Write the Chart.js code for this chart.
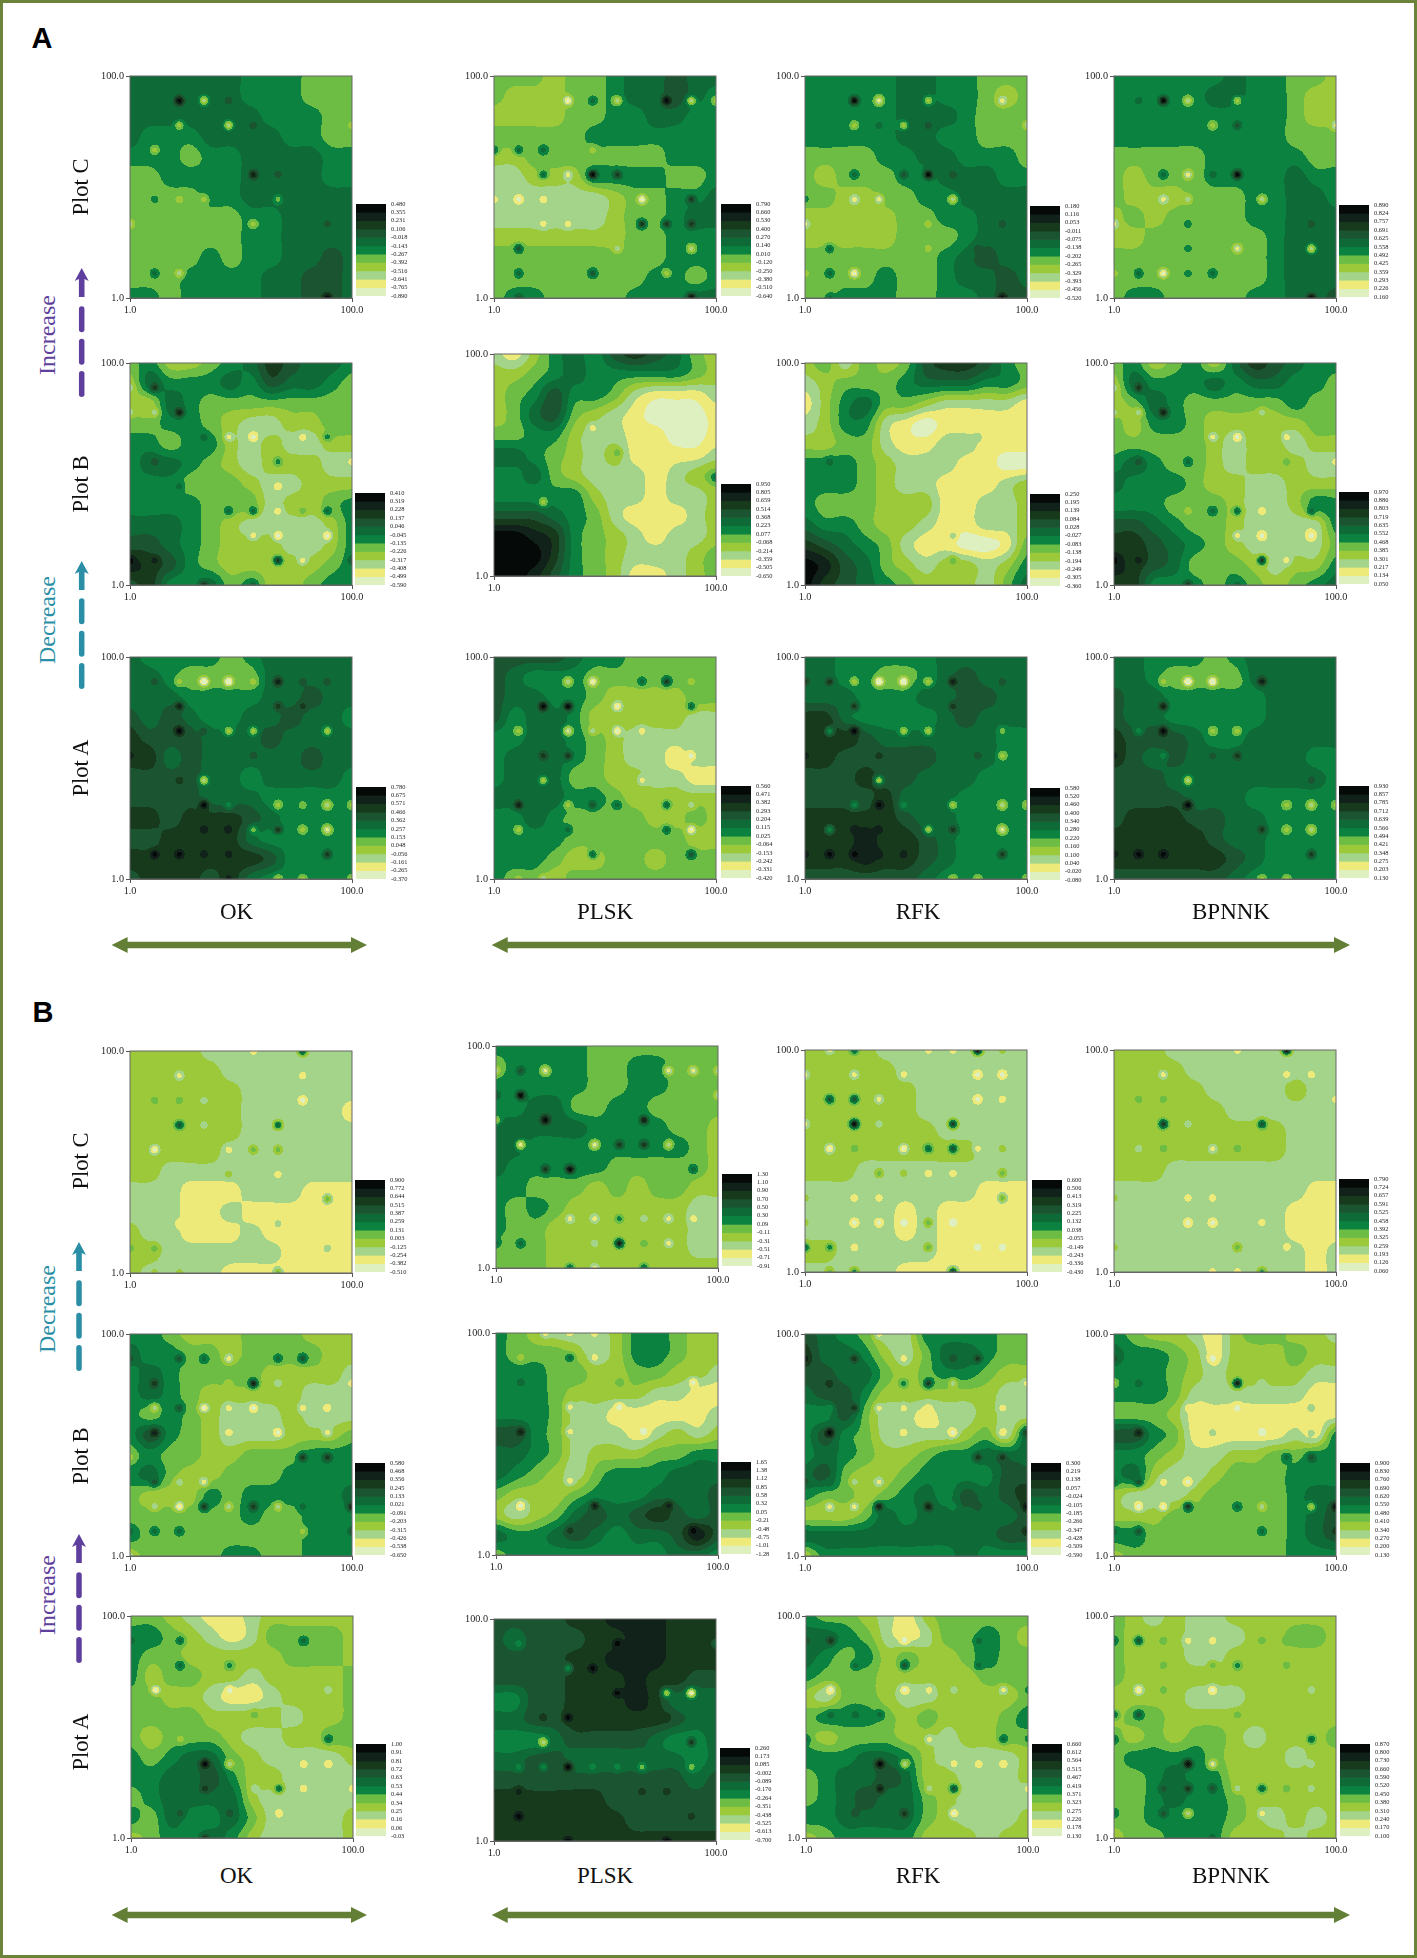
<!DOCTYPE html>
<html>
<head>
<meta charset="utf-8">
<script src="https://cdn.jsdelivr.net/npm/chart.js@4"></script>
<style>
html, body { margin: 0; padding: 0; background: #fff; }
#page { position: relative; width: 1417px; height: 1958px; overflow: hidden; background: #fff; }
#frame { position: absolute; left: 0; top: 0; width: 1417px; height: 1958px; box-sizing: border-box; border: 3.5px solid #6b8439; }
canvas { position: absolute; }
.t { position: absolute; transform: translate(-50%, -50%); white-space: nowrap; font-family: "Liberation Serif", serif; color: #111; }
.r { transform: translate(-50%, -50%) rotate(-90deg); }
svg { position: absolute; left: 0; top: 0; }
</style>
</head>
<body>
<div id="page"><div id="frame"></div></div>
<script>
// colour bands, palest (0) to black (10)
var bandColors = ["#dff0c0", "#eeea7a", "#a3d48a", "#9bc93a", "#6dbd45", "#0b8240", "#0e6b38", "#1a5430", "#183a1c", "#10221a", "#050908"];

// --- Figure A, Plot C ---
var gridAcOk = ["666666555444","666666555444","666666655544","655566665544","555455666655","445555666655","444455666666","444444556666","444444556666","444454556676","444555566776","554555566776"];
var spotsAcOk = [[23,89,10],[34,89,2],[45,89,7],[23,78,3],[45,78,2],[56,78,7],[12,67,3],[56,56,9],[67,56,7],[23,45,3],[34,45,3],[67,45,4],[56,34,3],[89,34,7],[1,34,2],[12,45,5],[12,12,6],[23,12,2],[89,1,10],[100,78,3]];
var ticksAcOk = ["0.480","0.355","0.231","0.106","-0.018","-0.143","-0.267","-0.392","-0.516","-0.641","-0.765","-0.890"];
var gridAcPlsk = ["444344566766","433344566765","333344556655","444445555555","334444444555","223335555445","222222344556","222222344566","333333344555","444444444555","444444445545","455444455566"];
var spotsAcPlsk = [[34,89,0],[56,89,2],[45,89,6],[78,89,10],[89,89,2],[100,89,3],[12,67,6],[23,67,6],[1,67,6],[45,67,3],[23,56,6],[34,56,1],[45,56,10],[56,56,8],[1,45,1],[12,45,0],[23,45,1],[45,45,2],[67,45,0],[89,45,8],[23,34,1],[34,34,1],[45,34,2],[67,34,8],[78,34,8],[89,34,8],[12,23,7],[56,23,2],[89,23,2],[12,12,6],[45,12,7],[78,12,3],[12,1,7],[89,1,10]];
var ticksAcPlsk = ["0.790","0.660","0.530","0.400","0.270","0.140","0.010","-0.120","-0.250","-0.380","-0.510","-0.640"];
var gridAcRfk = ["555556655444","555556655434","555556665444","555556655444","444455665554","434445566655","443344556666","333334455666","333334445666","444444456766","444454456676","445554455677"];
var spotsAcRfk = [[23,89,10],[34,89,1],[56,89,3],[89,89,1],[23,78,3],[34,78,6],[45,78,3],[56,78,7],[100,78,2],[23,56,6],[45,56,7],[56,56,10],[67,56,7],[23,45,1],[34,45,1],[67,45,2],[1,45,5],[1,34,1],[56,34,3],[89,34,7],[12,23,6],[56,23,3],[78,23,7],[12,12,6],[23,12,0],[1,12,3],[89,12,7],[89,1,10],[12,1,6]];
var ticksAcRfk = ["0.180","0.116","0.053","-0.011","-0.075","-0.138","-0.202","-0.265","-0.329","-0.393","-0.456","-0.520"];
var gridAcBp = ["555555655443","555556655433","555555555433","555555555444","444445555544","434445555655","433344455665","343444455666","334444445666","444444445666","444444445666","455444455667"];
var spotsAcBp = [[23,89,10],[34,89,2],[56,89,3],[12,89,6],[45,78,3],[56,78,7],[100,78,1],[23,56,6],[34,56,1],[56,56,10],[45,56,6],[67,45,2],[23,45,1],[1,34,1],[34,45,2],[34,34,5],[89,34,7],[56,23,1],[34,23,5],[89,23,2],[12,12,6],[23,12,0],[1,12,3],[34,12,5],[45,12,6],[89,1,10]];
var ticksAcBp = ["0.890","0.824","0.757","0.691","0.625","0.558","0.492","0.425","0.359","0.293","0.226","0.160"];

// --- Figure A, Plot B ---
var gridAbOk = ["453345687665","365556576654","336544444444","445543223344","554553232233","566543233322","555444322333","555544423345","666543222235","776543332235","987543333345","785564533455"];
var spotsAbOk = [[12,89,8],[23,78,9],[1,89,2],[1,78,2],[12,78,2],[45,67,1],[56,67,0],[78,67,1],[89,67,5],[34,67,6],[12,56,7],[67,56,5],[100,56,1],[67,45,1],[23,45,6],[45,34,6],[56,34,6],[67,34,1],[78,34,4],[89,34,6],[56,23,1],[67,23,0],[89,23,0],[67,12,8],[78,12,1],[1,12,10],[12,12,9],[34,1,8],[56,1,6],[100,12,7]];
var ticksAbOk = ["0.410","0.319","0.228","0.137","0.046","-0.045","-0.135","-0.226","-0.317","-0.408","-0.499","-0.590"];
var gridAbPlsk = ["213565787643","334565555543","345755421112","346743210001","445532211001","665432311112","556432221234","555553221223","777654211123","aa9854321223","aaa854322234","aa9754311234"];
var spotsAbPlsk = [[45,67,1],[56,56,4],[23,34,3],[100,45,6],[78,23,1]];
var ticksAbPlsk = ["0.950","0.805","0.659","0.514","0.368","0.223","0.077","-0.068","-0.214","-0.359","-0.505","-0.650"];
var gridAbRfk = ["342434788754","234445666554","135644322221","235521011111","334421122111","555432221100","555432211123","544433311223","655433211223","876542110014","a97643233235","a87654333246"];
var spotsAbRfk = [[67,12,4],[12,56,6],[23,78,6],[78,67,2],[67,23,2]];
var ticksAbRfk = ["0.250","0.195","0.139","0.084","0.028","-0.027","-0.083","-0.138","-0.194","-0.249","-0.305","-0.360"];
var gridAbBp = ["453453687655","365556566554","346544444544","435543333344","444443233233","565443233322","655543322333","555444322355","776544322225","887654322224","987644432335","885554543456"];
var spotsAbBp = [[12,89,8],[23,78,9],[1,89,2],[1,78,2],[12,78,2],[45,67,1],[56,67,0],[78,67,1],[34,56,6],[12,56,7],[78,56,4],[100,56,1],[67,78,2],[45,34,6],[56,34,6],[67,34,1],[89,34,6],[34,34,3],[56,23,1],[67,23,0],[89,23,0],[67,12,8],[78,12,1],[1,12,10],[12,12,9],[34,1,8],[56,1,6]];
var ticksAbBp = ["0.970","0.886","0.803","0.719","0.635","0.552","0.468","0.385","0.301","0.217","0.134","0.050"];

// --- Figure A, Plot A ---
var gridAaOk = ["655554566666","665444466666","666555566766","767655667665","877766676666","886766666766","777766566665","777766655555","887888765555","778888655555","888888875555","788878655555"];
var spotsAaOk = [[23,89,3],[34,89,-1],[45,89,-1],[56,89,3],[67,89,9],[12,89,7],[78,89,7],[89,89,7],[23,78,9],[67,78,8],[78,78,8],[23,67,10],[45,67,3],[56,67,3],[89,67,3],[34,67,7],[1,56,9],[56,56,7],[23,45,8],[34,45,2],[34,34,10],[67,34,3],[89,34,2],[78,34,4],[100,34,3],[45,34,5],[56,23,4],[67,23,8],[78,23,3],[89,23,1],[34,23,9],[45,23,9],[12,12,10],[23,12,10],[34,12,9],[45,12,9],[89,12,8],[67,1,3],[78,1,3],[45,1,9],[100,1,3]];
var ticksAaOk = ["0.780","0.675","0.571","0.466","0.362","0.257","0.153","0.048","-0.056","-0.161","-0.265","-0.370"];
var gridAaPlsk = ["777765544444","765554444444","766554333344","756653333322","556654322222","566654322122","566644332211","666655433333","556544443343","555544444433","555433443444","544344444444"];
var spotsAaPlsk = [[34,89,2],[45,89,0],[67,89,6],[78,89,8],[89,89,3],[23,78,10],[34,78,10],[56,78,0],[89,78,6],[12,67,3],[34,67,1],[45,67,2],[56,67,0],[67,67,1],[23,56,8],[34,56,8],[89,56,0],[23,45,3],[67,45,1],[12,34,9],[34,34,3],[45,34,7],[56,34,6],[78,34,6],[89,34,2],[12,23,3],[34,23,6],[78,23,6],[89,23,0],[45,12,6],[89,12,7],[12,1,3],[23,1,2]];
var ticksAaPlsk = ["0.560","0.471","0.382","0.293","0.204","0.115","0.025","-0.064","-0.153","-0.242","-0.331","-0.420"];
var gridAaRfk = ["665555566666","665544567666","666555667766","886555567666","888766666655","887777766655","777877666555","777786665555","888887665555","888988765555","888988765555","777777655555"];
var spotsAaRfk = [[12,89,8],[23,89,3],[34,89,-1],[45,89,-1],[56,89,3],[67,89,9],[1,89,8],[89,89,7],[23,78,8],[67,78,8],[12,67,5],[23,67,10],[45,67,3],[56,67,3],[89,67,4],[1,56,9],[34,56,8],[56,56,7],[78,56,7],[89,56,3],[34,45,3],[23,34,5],[34,34,10],[45,34,5],[67,34,3],[89,34,2],[100,34,3],[12,23,5],[23,23,9],[34,23,9],[56,23,3],[67,23,8],[89,23,1],[12,12,10],[23,12,10],[34,12,9],[45,12,9],[89,12,8],[1,12,9],[67,1,3],[78,1,3],[100,1,3]];
var ticksAaRfk = ["0.580","0.520","0.460","0.400","0.340","0.280","0.220","0.160","0.100","0.040","-0.020","-0.080"];
var gridAaBp = ["665554566666","665444466666","766555556666","766555556666","877765566666","876766666655","777666666665","777766655555","788877665555","888887665555","888888765555","777777655555"];
var spotsAaBp = [[23,89,3],[34,89,-1],[45,89,-1],[56,89,4],[67,89,9],[23,78,9],[23,67,10],[12,67,5],[45,67,3],[56,67,3],[1,56,9],[23,56,5],[56,56,8],[45,56,7],[34,45,2],[34,34,10],[78,34,3],[89,34,2],[100,34,3],[67,23,8],[89,23,2],[78,23,3],[12,12,10],[23,12,10],[34,23,8],[89,12,8],[1,12,9],[67,1,3],[78,1,3],[89,45,7]];
var ticksAaBp = ["0.930","0.857","0.785","0.712","0.639","0.566","0.494","0.421","0.348","0.275","0.203","0.130"];

// --- Figure B, Plot C ---
var gridBcOk = ["333322222222","333332222222","333333222222","333333222221","333333222222","333332222222","332222222222","222111222111","222112111111","322111211111","332222221111","322221111111"];
var spotsBcOk = [[23,67,7],[67,67,6],[23,78,4],[12,78,4],[34,78,2],[23,89,1],[78,78,0],[78,89,1],[78,100,7],[56,100,1],[12,56,0],[45,56,1],[56,56,4],[67,56,4],[67,45,1],[45,45,3],[89,34,4],[23,23,1],[67,23,2],[89,12,2],[12,12,4],[1,12,4],[67,1,4],[12,1,3],[23,1,3],[34,67,2]];
var ticksBcOk = ["0.900","0.772","0.644","0.515","0.387","0.259","0.131","0.003","-0.125","-0.254","-0.382","-0.510"];
var gridBcPlsk = ["555554444444","455554455444","555554455444","556644554444","666665555443","665555555543","655555444443","554443434433","545433333322","544333333322","444333333322","444333333333"];
var spotsBcPlsk = [[12,89,7],[23,89,1],[1,89,2],[78,89,1],[89,89,1],[100,89,2],[12,78,10],[1,78,7],[100,78,2],[23,67,10],[67,67,9],[1,67,3],[12,56,1],[45,56,1],[56,56,8],[67,56,8],[78,56,2],[23,45,8],[34,45,10],[89,45,6],[34,23,1],[45,23,1],[56,23,5],[67,23,2],[78,23,1],[89,23,1],[45,12,2],[56,12,9],[67,12,4],[78,12,1],[12,12,6],[1,12,6],[34,1,6],[67,1,6],[45,1,1]];
var ticksBcPlsk = ["1.30","1.10","0.90","0.70","0.50","0.30","0.09","-0.11","-0.31","-0.51","-0.71","-0.91"];
var gridBcRfk = ["333322222222","333332222222","333333222222","333333222222","333333322222","333333333222","333222222222","222222222111","222221211111","222221211111","332222211111","222221111111"];
var spotsBcRfk = [[78,100,10],[23,100,6],[12,100,1],[56,100,1],[67,100,1],[89,100,3],[1,89,1],[23,89,1],[45,89,1],[78,89,0],[89,89,0],[12,78,7],[23,78,7],[34,78,1],[78,78,0],[89,78,1],[23,67,10],[34,67,2],[67,67,8],[1,67,1],[12,56,0],[23,56,4],[45,56,0],[56,56,6],[67,56,7],[78,56,1],[89,56,3],[34,45,4],[45,45,3],[56,45,1],[67,45,1],[89,45,4],[23,34,1],[34,34,1],[89,34,4],[1,34,3],[23,23,0],[34,23,0],[45,23,0],[56,23,4],[67,23,0],[1,23,3],[1,12,6],[12,12,5],[23,12,1],[56,12,4],[78,12,0],[89,12,0],[12,1,4],[23,1,5],[45,1,1],[67,1,8]];
var ticksBcRfk = ["0.600","0.506","0.413","0.319","0.225","0.132","0.038","-0.055","-0.149","-0.243","-0.336","-0.430"];
var gridBcBp = ["333222222222","333322222222","333332222322","333333222222","333333333222","333333333222","333222222222","222222222211","222222222111","222222222111","222222222212","222222222212"];
var spotsBcBp = [[78,100,10],[23,89,1],[78,89,1],[89,89,1],[56,100,1],[23,78,4],[12,78,4],[67,67,7],[23,67,8],[34,67,2],[23,56,4],[12,56,2],[45,56,1],[56,56,4],[45,34,1],[34,34,1],[34,23,0],[45,23,0],[67,23,1],[56,12,4],[78,12,1],[67,1,5],[45,1,1],[56,1,1],[100,78,1],[1,12,3],[1,34,3]];
var ticksBcBp = ["0.790","0.724","0.657","0.591","0.525","0.458","0.392","0.325","0.259","0.193","0.126","0.060"];

// --- Figure B, Plot B ---
var gridBbOk = ["554333444333","655443444433","565444433332","565433333222","545432223222","575432223334","454433444555","564334445555","433354555556","444444544555","544444444555","344445544555"];
var spotsBbOk = [[1,89,7],[23,89,7],[34,89,6],[45,89,1],[67,89,6],[78,89,7],[12,78,8],[45,78,3],[56,78,9],[67,78,2],[100,78,1],[12,67,2],[23,67,7],[34,67,0],[45,67,1],[56,67,0],[78,67,1],[89,67,1],[12,56,9],[45,56,1],[67,56,0],[89,56,1],[1,45,3],[78,45,8],[89,45,8],[12,34,7],[23,34,2],[34,34,1],[12,23,2],[23,23,0],[34,23,8],[45,23,2],[56,23,8],[67,23,2],[100,23,9],[78,23,6],[1,12,6],[12,12,6],[23,12,6],[78,12,3],[100,12,7],[1,1,2]];
var ticksBbOk = ["0.580","0.468","0.356","0.245","0.133","0.021","-0.091","-0.203","-0.315","-0.426","-0.538","-0.650"];
var gridBbPlsk = ["543222355433","544432355433","555443344332","555433332211","555422111112","775422212323","665423334455","654324555666","433345556667","323467678767","655676566797","455555555665"];
var spotsBbPlsk = [[12,56,9],[12,23,0],[34,67,1],[34,56,1],[45,89,1],[23,100,1],[34,100,1],[45,100,1],[34,34,1],[56,67,0],[67,56,0],[89,78,0],[89,12,10],[78,23,9],[34,12,8],[45,23,9],[12,78,6],[56,78,4],[34,89,6],[12,89,3]];
var ticksBbPlsk = ["1.65","1.38","1.12","0.85","0.58","0.32","0.05","-0.21","-0.48","-0.75","-1.01","-1.28"];
var gridBbRfk = ["765422555544","866532466544","776643455433","677533333322","557422122322","575422223426","565433455666","674334555577","544345657678","333465666667","666666666677","355555556555"];
var spotsBbRfk = [[23,89,8],[1,89,9],[45,89,1],[34,100,1],[45,100,2],[67,89,7],[78,89,8],[12,78,8],[45,78,5],[56,78,8],[67,78,2],[100,78,1],[12,67,5],[23,67,8],[34,67,1],[45,67,1],[56,67,1],[89,67,1],[12,56,10],[45,56,1],[67,56,0],[89,56,1],[100,56,8],[78,45,8],[89,45,8],[12,34,6],[23,34,2],[34,34,1],[1,34,7],[12,23,1],[23,23,1],[34,23,9],[56,23,9],[67,23,5],[100,23,10],[78,23,7],[100,12,9],[1,1,3]];
var ticksBbRfk = ["0.300","0.219","0.138","0.057","-0.024","-0.105","-0.185","-0.266","-0.347","-0.428","-0.509","-0.590"];
var gridBbBp = ["543321344332","655431333433","555432333322","555422222211","444311111111","775411111215","554322334455","563223444555","322234444566","333444444567","554444444567","344444444555"];
var spotsBbBp = [[23,89,5],[1,89,7],[45,89,0],[56,78,9],[1,78,3],[12,78,6],[67,78,2],[34,67,1],[56,67,0],[89,67,2],[12,56,9],[45,56,2],[67,56,0],[89,56,2],[78,45,6],[89,45,7],[12,34,7],[1,34,6],[23,34,1],[34,34,0],[12,23,0],[23,23,0],[34,23,8],[56,23,6],[67,23,2],[89,23,3],[100,23,10],[100,12,8],[1,12,6],[12,12,7],[67,12,6]];
var ticksBbBp = ["0.900","0.830","0.760","0.690","0.620","0.550","0.480","0.410","0.340","0.270","0.200","0.130"];

// --- Figure B, Plot A ---
var gridBaOk = ["443211233333","554321244443","544333334443","534433233334","443321123334","444433332334","434443223344","545664322223","556675332222","456666322222","546556422223","345565322223"];
var spotsBaOk = [[78,89,6],[23,89,6],[1,89,6],[23,78,6],[45,78,5],[12,67,0],[45,67,0],[56,67,1],[89,67,2],[56,56,4],[89,45,6],[12,45,3],[23,45,3],[34,34,10],[45,34,2],[78,34,1],[89,34,1],[34,23,8],[67,23,6],[78,23,1],[100,23,1],[56,23,2],[23,12,7],[45,12,7],[67,12,1],[34,1,8]];
var ticksBaOk = ["1.00","0.91","0.81","0.72","0.63","0.53","0.44","0.34","0.25","0.16","0.06","-0.03"];
var gridBaPlsk = ["777788999888","767778899888","777788999888","777788898877","557788898666","667788888766","555677776556","667766666656","777777777767","888888777777","888888877777","888888888888"];
var spotsBaPlsk = [[12,89,5],[23,89,7],[56,89,10],[100,89,6],[45,78,10],[34,78,5],[78,78,8],[56,67,10],[78,67,3],[89,67,0],[34,56,10],[23,56,8],[78,56,8],[23,45,2],[12,45,5],[67,45,7],[89,45,8],[23,34,5],[34,34,10],[12,34,5],[45,34,5],[56,34,5],[67,34,4],[89,34,4],[12,23,9],[67,23,8],[78,23,8],[12,12,10],[89,12,8],[34,1,10],[78,1,10]];
var ticksBaPlsk = ["0.260","0.173","0.085","-0.002","-0.089","-0.176","-0.264","-0.351","-0.438","-0.525","-0.613","-0.700"];
var gridBaRfk = ["544321344444","665421244543","654534334544","544433333444","324432233334","455543433345","434443323344","555665322223","456676332223","456766432222","556666432223","345555333233"];
var spotsBaRfk = [[12,89,8],[45,89,0],[78,89,6],[1,89,7],[23,78,6],[45,78,7],[78,78,6],[12,67,0],[45,67,0],[56,67,1],[67,67,2],[89,67,1],[100,67,5],[12,56,6],[23,56,6],[34,56,6],[56,56,4],[100,56,5],[1,45,6],[12,45,3],[56,45,1],[89,45,6],[100,45,5],[34,34,10],[45,34,2],[67,34,1],[78,34,1],[89,34,1],[34,23,9],[67,23,7],[100,23,1],[56,23,2],[45,12,8],[23,12,7],[67,12,0]];
var ticksBaRfk = ["0.660","0.612","0.564","0.515","0.467","0.419","0.371","0.323","0.275","0.226","0.178","0.130"];
var gridBaBp = ["432322333333","433322233443","433322333333","433333333333","333322233333","344333333333","434344323334","455554333233","445655333333","445655433333","445555432323","344555333233"];
var spotsBaBp = [[12,89,7],[1,89,6],[34,89,1],[45,89,1],[23,89,4],[67,89,4],[78,89,4],[89,89,4],[23,78,4],[45,78,4],[56,78,5],[78,78,4],[12,67,0],[23,67,4],[45,67,0],[89,67,2],[1,56,6],[12,56,7],[56,56,4],[1,45,6],[89,45,6],[34,34,10],[45,34,1],[89,34,2],[23,23,7],[34,23,8],[45,23,7],[67,23,6],[78,23,4],[89,23,2],[56,23,2],[23,12,7],[34,12,2],[67,12,1],[1,12,6],[45,1,6]];
var ticksBaBp = ["0.870","0.800","0.730","0.660","0.590","0.520","0.450","0.380","0.310","0.240","0.170","0.100"];

// panel list: [grid, spots, ticks, plot left, plot top, bar left, bar top]
var panels = [
  [gridAcOk, spotsAcOk, ticksAcOk, 129.5, 76, 356, 204], [gridAcPlsk, spotsAcPlsk, ticksAcPlsk, 494, 76, 721, 204],
  [gridAcRfk, spotsAcRfk, ticksAcRfk, 804.5, 76, 1030, 206], [gridAcBp, spotsAcBp, ticksAcBp, 1113.5, 76, 1339, 205],
  [gridAbOk, spotsAbOk, ticksAbOk, 129.5, 363, 355, 493], [gridAbPlsk, spotsAbPlsk, ticksAbPlsk, 494, 354, 721, 484],
  [gridAbRfk, spotsAbRfk, ticksAbRfk, 804.5, 363, 1030, 494], [gridAbBp, spotsAbBp, ticksAbBp, 1113.5, 363, 1339, 492],
  [gridAaOk, spotsAaOk, ticksAaOk, 129.5, 657, 356, 787], [gridAaPlsk, spotsAaPlsk, ticksAaPlsk, 494, 657, 721, 786],
  [gridAaRfk, spotsAaRfk, ticksAaRfk, 804.5, 657, 1030, 788], [gridAaBp, spotsAaBp, ticksAaBp, 1113.5, 657, 1339, 786],
  [gridBcOk, spotsBcOk, ticksBcOk, 129.5, 1051, 355, 1180], [gridBcPlsk, spotsBcPlsk, ticksBcPlsk, 496, 1046, 722, 1174],
  [gridBcRfk, spotsBcRfk, ticksBcRfk, 804.5, 1050, 1032, 1180], [gridBcBp, spotsBcBp, ticksBcBp, 1113.5, 1050, 1339, 1179],
  [gridBbOk, spotsBbOk, ticksBbOk, 129.5, 1334, 355, 1463], [gridBbPlsk, spotsBbPlsk, ticksBbPlsk, 496, 1333, 721, 1462],
  [gridBbRfk, spotsBbRfk, ticksBbRfk, 804.5, 1334, 1031, 1463], [gridBbBp, spotsBbBp, ticksBbBp, 1113.5, 1334, 1340, 1463],
  [gridBaOk, spotsBaOk, ticksBaOk, 131, 1616, 356, 1744], [gridBaPlsk, spotsBaPlsk, ticksBaPlsk, 494, 1619, 720, 1748],
  [gridBaRfk, spotsBaRfk, ticksBaRfk, 805.5, 1616, 1032, 1744], [gridBaBp, spotsBaBp, ticksBaBp, 1113.5, 1616, 1340, 1744]
];

var page = document.getElementById("page");
var PLOT = 222, BAR_W = 30, BAR_H = 92;

function addCanvas(left, top, w, h) {
  var c = document.createElement("canvas");
  c.width = w; c.height = h;
  c.style.left = left + "px"; c.style.top = top + "px";
  c.style.width = w + "px"; c.style.height = h + "px";
  page.appendChild(c);
  return c.getContext("2d");
}

// the layout squeezes the value axis for its first and last labels, pin it back
function pinArea(left, top, w, h) {
  return {
    id: "pinArea",
    afterLayout: function (chart) {
      var a = chart.chartArea;
      a.left = left; a.top = top; a.right = left + w; a.bottom = top + h; a.width = w; a.height = h;
      var xs = chart.scales.x, ys = chart.scales.y;
      xs.left = left; xs.right = left + w; xs.width = w; xs.configure();
      ys.top = top; ys.bottom = top + h; ys.height = h; ys.configure();
    }
  };
}

function cubic(a, b, c, d, t) {
  return b + 0.5 * t * (c - a + t * (2 * a - 5 * b + 4 * c - d + t * (3 * (b - c) + d - a)));
}

// level at a data position: grid nodes every 9 units, then the sampled spots on top
function levelAt(nodes, spots, x, y) {
  var u = (x - 1) / 9, w = (100 - y) / 9;
  var i = Math.max(0, Math.min(10, Math.floor(u))), j = Math.max(0, Math.min(10, Math.floor(w)));
  var rows = [];
  for (var r = -1; r <= 2; r++) {
    var row = nodes[Math.max(0, Math.min(11, j + r))];
    var col = function (k) { return row[Math.max(0, Math.min(11, i + k))].v; };
    rows.push(cubic(col(-1), col(0), col(1), col(2), u - i));
  }
  var base = cubic(rows[0], rows[1], rows[2], rows[3], w - j);
  var out = base;
  for (var s = 0; s < spots.length; s++) {
    var dx = spots[s].x - x, dy = spots[s].y - y, d2 = dx * dx + dy * dy;
    if (d2 < 36) out += (spots[s].v - base) * Math.exp(-d2 / 4);
  }
  return out;
}

// fills the plot area band by band, positions come from the chart's scales
var contourFill = {
  id: "contourFill",
  beforeDatasetsDraw: function (chart) {
    var a = chart.chartArea, xs = chart.scales.x, ys = chart.scales.y, ctx = chart.ctx;
    var flat = chart.data.datasets[0].data, spots = chart.data.datasets[1].data, nodes = [];
    for (var n = 0; n < 12; n++) nodes.push(flat.slice(n * 12, n * 12 + 12));
    var x0 = Math.round(a.left), x1 = Math.round(a.right), y0 = Math.round(a.top), y1 = Math.round(a.bottom);
    for (var py = y0; py < y1; py++) {
      var yv = ys.getValueForPixel(py + 0.5), start = x0, last = -1;
      for (var px = x0; px < x1; px++) {
        var band = Math.round(levelAt(nodes, spots, xs.getValueForPixel(px + 0.5), yv));
        band = Math.max(0, Math.min(10, band));
        if (band !== last) {
          if (last >= 0) { ctx.fillStyle = bandColors[last]; ctx.fillRect(start, py, px - start, 1); }
          start = px; last = band;
        }
      }
      ctx.fillStyle = bandColors[last];
      ctx.fillRect(start, py, x1 - start, 1);
    }
    ctx.strokeStyle = "#666"; ctx.lineWidth = 1;
    ctx.strokeRect(x0, y0, x1 - x0, y1 - y0);
  }
};

function plotChart(p) {
  var nodes = [];
  p[0].forEach(function (line, r) {
    line.split("").forEach(function (ch, c) {
      nodes.push({ x: 1 + 9 * c, y: 100 - 9 * r, v: parseInt(ch, 16) });
    });
  });
  var spots = p[1].map(function (s) { return { x: s[0], y: s[1], v: s[2] }; });
  var ctx = addCanvas(Math.round(p[3]) - 40, p[4] - 8, PLOT + 58, PLOT + 30);
  var axis = function (pos, fit) {
    return {
      type: "linear", position: pos, min: 1, max: 100,
      afterBuildTicks: function (sc) { sc.ticks = [{ value: 1 }, { value: 100 }]; },
      afterFit: fit,
      grid: { drawOnChartArea: false, drawTicks: true, tickLength: 4, color: "#555" },
      border: { color: "#666" },
      ticks: {
        autoSkip: false, maxRotation: 0, padding: 2, color: "#222",
        font: { family: "Liberation Serif", size: 10.2 },
        callback: function (v) { return v.toFixed(1); }
      }
    };
  };
  new Chart(ctx, {
    type: "scatter",
    data: { datasets: [
      { label: "grid", data: nodes, pointRadius: 0 },
      { label: "spots", data: spots, pointRadius: 0 }
    ] },
    options: {
      responsive: false, animation: false, devicePixelRatio: 1,
      layout: { autoPadding: false, padding: { top: 8, right: 18, left: 0, bottom: 0 } },
      plugins: { legend: { display: false }, tooltip: { enabled: false } },
      scales: {
        x: axis("bottom", function (sc) { sc.height = 22; }),
        y: axis("left", function (sc) { sc.width = 40; })
      }
    },
    plugins: [pinArea(40, 8, PLOT, PLOT), contourFill]
  });
}

function barChart(p) {
  var ticks = p[2];
  var sets = [];
  for (var i = 0; i < 11; i++) {
    sets.push({ data: [[Number(ticks[i + 1]), Number(ticks[i])]], backgroundColor: bandColors[10 - i], borderWidth: 0 });
  }
  var ctx = addCanvas(p[5], p[6] - 5, BAR_W + 32, BAR_H + 10);
  new Chart(ctx, {
    type: "bar",
    data: { labels: ["band"], datasets: sets },
    options: {
      responsive: false, animation: false, devicePixelRatio: 1,
      barPercentage: 1, categoryPercentage: 1,
      layout: { autoPadding: false, padding: { top: 5, bottom: 5, left: 0, right: 0 } },
      plugins: { legend: { display: false }, tooltip: { enabled: false } },
      scales: {
        x: { display: false, stacked: true },
        y: {
          position: "right", min: Number(ticks[11]), max: Number(ticks[0]),
          afterBuildTicks: function (sc) { sc.ticks = ticks.map(function (t) { return { value: Number(t) }; }); },
          afterFit: function (sc) { sc.width = 32; },
          grid: { display: false, drawTicks: false }, border: { display: false },
          ticks: {
            autoSkip: false, padding: 5, color: "#222",
            font: { family: "Liberation Serif", size: 6.4 },
            callback: function (v, i) { return ticks[i]; }
          }
        }
      }
    },
    plugins: [pinArea(0, 5, BAR_W, BAR_H)]
  });
}

panels.forEach(function (p) { plotChart(p); barChart(p); });

// text around the plots
function addText(str, x, y, size, color, rotated, family, weight) {
  var d = document.createElement("div");
  d.className = rotated ? "t r" : "t";
  d.textContent = str;
  d.style.left = x + "px"; d.style.top = y + "px";
  d.style.fontSize = size + "px"; d.style.color = color;
  if (family) d.style.fontFamily = family;
  if (weight) d.style.fontWeight = weight;
  page.appendChild(d);
}
var sans = '"Liberation Sans", sans-serif';
addText("A", 42, 38, 29, "#000", false, sans, "bold");
addText("B", 43, 1012, 29, "#000", false, sans, "bold");
[[187, "Plot C"], [484, "Plot B"], [768, "Plot A"], [1161, "Plot C"], [1456, "Plot B"], [1742, "Plot A"]].forEach(function (t) {
  addText(t[1], 80.5, t[0], 22.5, "#111", true);
});
var purple = "#5f3f9d", teal = "#2a8fa6";
addText("Increase", 47, 335, 24, purple, true);
addText("Decrease", 47, 620, 24, teal, true);
addText("Decrease", 47, 1309, 24, teal, true);
addText("Increase", 47, 1595, 24, purple, true);
[912, 1876].forEach(function (y) {
  addText("OK", 236.5, y, 23, "#111");
  addText("PLSK", 605, y, 23, "#111");
  addText("RFK", 918, y, 23, "#111");
  addText("BPNNK", 1231, y, 23, "#111");
});

// dashed vertical arrows and the double arrows under each figure
var svg = '<svg width="1417" height="1958" xmlns="http://www.w3.org/2000/svg">';
function upArrow(x, tip, color, first) {
  svg += '<polygon points="' + x + ',' + tip + ' ' + (x - 7) + ',' + (tip + 13) + ' ' + (x - 2.8) + ',' + (tip + 11) + ' ' + (x - 2.8) + ',' + (tip + 29) + ' ' + (x + 2.8) + ',' + (tip + 29) + ' ' + (x + 2.8) + ',' + (tip + 11) + ' ' + (x + 7) + ',' + (tip + 13) + '" fill="' + color + '"/>';
  for (var k = 0; k < 3; k++) {
    var y0 = first + k * 32.4;
    svg += '<line x1="' + x + '" y1="' + y0 + '" x2="' + x + '" y2="' + (y0 + 20.5) + '" stroke="' + color + '" stroke-width="5.5" stroke-linecap="round"/>';
  }
}
upArrow(81.7, 268, purple, 309);
upArrow(81.7, 561, teal, 601);
upArrow(79, 1242, teal, 1283);
upArrow(79, 1534, purple, 1575);
function doubleArrow(x0, x1, y) {
  var c = "#627f35";
  svg += '<polygon points="' + x0 + ',' + y + ' ' + (x0 + 16) + ',' + (y - 8) + ' ' + (x0 + 16) + ',' + (y - 3.2) + ' ' + (x1 - 16) + ',' + (y - 3.2) + ' ' + (x1 - 16) + ',' + (y - 8) + ' ' + x1 + ',' + y + ' ' + (x1 - 16) + ',' + (y + 8) + ' ' + (x1 - 16) + ',' + (y + 3.2) + ' ' + (x0 + 16) + ',' + (y + 3.2) + ' ' + (x0 + 16) + ',' + (y + 8) + '" fill="' + c + '"/>';
}
doubleArrow(111.6, 367, 945);
doubleArrow(491.7, 1350, 945);
doubleArrow(111.6, 367, 1915);
doubleArrow(491.7, 1350, 1915);
svg += "</svg>";
page.insertAdjacentHTML("beforeend", svg);
</script>
</body>
</html>
